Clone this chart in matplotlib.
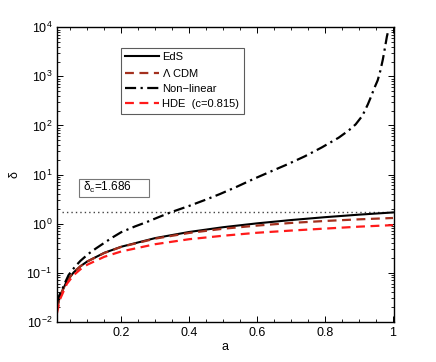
import numpy as np
import matplotlib.pyplot as plt
from matplotlib.patches import Rectangle
from matplotlib.ticker import LogLocator, MultipleLocator, NullFormatter

plt.rcParams['font.family'] = ['Liberation Sans', 'DejaVu Sans']
plt.rcParams['mathtext.fontset'] = 'custom'
plt.rcParams['mathtext.rm'] = 'Liberation Sans'
plt.rcParams['mathtext.it'] = 'Liberation Sans:italic'

# scale factor grid for the linear growth curves
a_lin = [0.011, 0.02, 0.04, 0.06, 0.08, 0.1, 0.15, 0.2, 0.3, 0.4, 0.5, 0.6, 0.7, 0.8, 0.9, 1.0]
eds = [0.0185, 0.0337, 0.0674, 0.101, 0.135, 0.169, 0.253, 0.337, 0.506, 0.674,
       0.843, 1.01, 1.18, 1.35, 1.52, 1.686]
lcdm = [0.0185, 0.0337, 0.0674, 0.101, 0.135, 0.168, 0.251, 0.334, 0.493, 0.644,
        0.784, 0.91, 1.03, 1.13, 1.22, 1.30]
hde = [0.015, 0.0287, 0.059, 0.089, 0.117, 0.145, 0.21, 0.27, 0.38, 0.48,
       0.565, 0.65, 0.72, 0.79, 0.865, 0.93]

# non-linear (spherical collapse) curve
a_nl = [0.011, 0.013, 0.018, 0.025, 0.035, 0.045, 0.055, 0.064, 0.08, 0.104,
        0.125, 0.153, 0.175, 0.2, 0.24, 0.276, 0.31, 0.345, 0.4, 0.45,
        0.49, 0.54, 0.59, 0.64, 0.69, 0.74, 0.79, 0.84, 0.87, 0.89,
        0.91, 0.926, 0.935, 0.945, 0.955, 0.963, 0.97, 0.976, 0.982, 0.986]
nonlin = [0.024, 0.0275, 0.0347, 0.0437, 0.063, 0.089, 0.110, 0.132, 0.174, 0.243,
          0.309, 0.417, 0.525, 0.667, 0.871, 1.08, 1.35, 1.69, 2.29, 3.09,
          3.98, 5.62, 8.13, 11.5, 16.2, 23.4, 35.5, 56.2, 79.4, 105,
          158, 269, 380, 575, 832, 1320, 2190, 3720, 6460, 8510]

delta_c = 1.686
a_dot = [0.025, 1.0]

fig = plt.figure(figsize=(4.36, 3.62), dpi=100)
ax = fig.add_axes([0.1307, 0.1113, 0.7730, 0.8133])

ax.plot(a_dot, [delta_c, delta_c], color='#444444', linestyle=(0, (1, 2.2)), linewidth=1.0)
ax.plot(a_lin, eds, color='black', linewidth=1.5, label='EdS')
ax.plot(a_lin, lcdm, color='#a3301e', linewidth=1.6, linestyle=(0, (4, 2.5)), label=r'$\Lambda$ CDM')
ax.plot(a_nl, nonlin, color='black', linewidth=1.6, linestyle=(0, (5, 2, 1, 2)), label='Non\u2212linear')
ax.plot(a_lin, hde, color='#ff1a1a', linewidth=1.6, linestyle=(0, (4, 2.5)), label='HDE  (c=0.815)')

ax.set_yscale('log')
ax.set_xlim(0.011, 1.003)
ax.set_ylim(1e-2, 1e4)
ax.set_xticks([0.2, 0.4, 0.6, 0.8, 1])
ax.set_xticklabels(['0.2', '0.4', '0.6', '0.8', '1'])
ax.xaxis.set_minor_locator(MultipleLocator(0.05))
ax.set_yticks([1e-2, 1e-1, 1e0, 1e1, 1e2, 1e3, 1e4])
ax.yaxis.set_minor_locator(LogLocator(base=10, subs=np.arange(2, 10), numticks=20))
ax.yaxis.set_minor_formatter(NullFormatter())
ax.tick_params(which='both', direction='in', top=True, right=True, labelsize=9)
ax.tick_params(which='major', length=4, width=0.7)
ax.tick_params(which='minor', length=2, width=0.6)
for s in ax.spines.values():
    s.set_linewidth(1.0)

ax.set_xlabel('a', fontsize=9, labelpad=2)
ax.set_ylabel('\u03b4', fontsize=9, labelpad=4)

leg = ax.legend(loc='upper left', bbox_to_anchor=(0.19, 0.93), fontsize=8, frameon=True,
                fancybox=False, handlelength=3.0, handletextpad=0.3, borderpad=0.4,
                labelspacing=0.45, borderaxespad=0)
leg.get_frame().set_edgecolor('#333333')
leg.get_frame().set_linewidth(0.8)

ax.add_patch(Rectangle((0.065, 0.4236), 0.208, 0.061, transform=ax.transAxes,
                       facecolor='white', edgecolor='#777777', linewidth=0.8, zorder=5))
ax.text(0.078, 0.4545, '\u03b4$_{\\mathrm{c}}$=1.686', transform=ax.transAxes, fontsize=8.5,
        va='center', ha='left', zorder=6)

fig.savefig('out.png', dpi=100)
